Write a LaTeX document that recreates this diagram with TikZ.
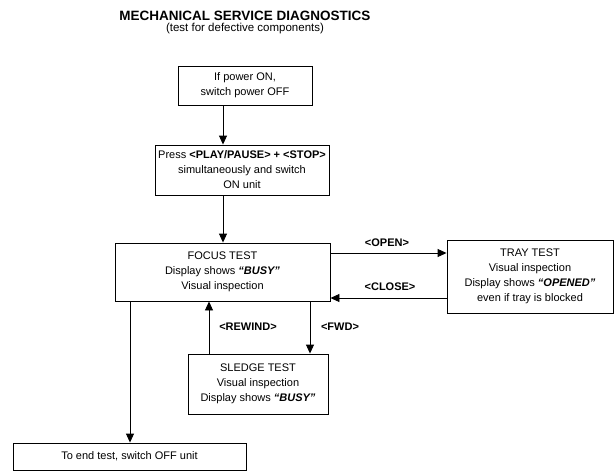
\documentclass[tikz,border=0pt]{standalone}
\usepackage{fontspec}
\setmainfont{Liberation Sans}
\usetikzlibrary{arrows.meta}
\newcommand{\keyword}[1]{\textbf{\textit{#1}}}
\begin{document}
\begin{tikzpicture}[x=1pt,y=-1pt,
  box/.style={draw,line width=0.9pt,align=center,inner sep=0pt,
    font=\fontsize{11}{15}\selectfont},
  flow/.style={line width=0.9pt,-{Triangle[length=9pt,width=8pt]}},
  keylabel/.style={font=\fontsize{11}{12}\selectfont\bfseries,inner sep=0pt}]
\useasboundingbox (0,0) rectangle (615,472);

% heading
\node[font=\fontsize{13.5}{15}\selectfont\bfseries] (title) at (245,16) {MECHANICAL SERVICE DIAGNOSTICS};
\node[font=\fontsize{11.5}{13}\selectfont] (sub) at (245,29) {(test for defective components)};

% boxes
\node[box,minimum width=134pt,minimum height=39pt] (power) at (245,85.5)
  {If power ON,\\switch power OFF};
\node[box,minimum width=174pt,minimum height=50pt] (start) at (242,170)
  {Press \textbf{<PLAY/PAUSE> + <STOP>}\\simultaneously and switch\\ON unit};
\node[box,minimum width=215pt,minimum height=58pt] (focus) at (222.5,272)
  {FOCUS TEST\\Display shows \keyword{“BUSY”}\\Visual inspection};
\node[box,minimum width=166pt,minimum height=73pt] (tray) at (530,276.5)
  {TRAY TEST\\Visual inspection\\Display shows \keyword{“OPENED”}\\even if tray is blocked};
\node[box,minimum width=140pt,minimum height=60pt] (sledge) at (258,384)
  {SLEDGE TEST\\Visual inspection\\Display shows \keyword{“BUSY”}};
\node[box,minimum width=233pt,minimum height=27pt] (finish) at (129.5,456.5)
  {To end test, switch OFF unit};

% reference lines for the connectors
\coordinate (axis) at (223,0);
\coordinate (openrow) at (0,253);
\coordinate (closerow) at (0,298);
\coordinate (rewindcol) at (209,0);
\coordinate (fwdcol) at (310,0);
\coordinate (endcol) at (130,0);

% connectors
\draw[flow] (power.south -| axis) -- (start.north -| axis);
\draw[flow] (start.south -| axis) -- (focus.north -| axis);
\draw[flow] (focus.east |- openrow) -- (tray.west |- openrow);
\draw[flow] (tray.west |- closerow) -- (focus.east |- closerow);
\draw[flow] (focus.south -| fwdcol) -- (sledge.north -| fwdcol);
\draw[flow] (sledge.north -| rewindcol) -- (focus.south -| rewindcol);
\draw[flow] (focus.south -| endcol) -- (finish.north -| endcol);

% key labels
\node[keylabel] (openkey) at (387,243) {<OPEN>};
\node[keylabel] (closekey) at (390,287) {<CLOSE>};
\node[keylabel] (rewindkey) at (248,327) {<REWIND>};
\node[keylabel] (fwdkey) at (340,327) {<FWD>};
\end{tikzpicture}
\end{document}
